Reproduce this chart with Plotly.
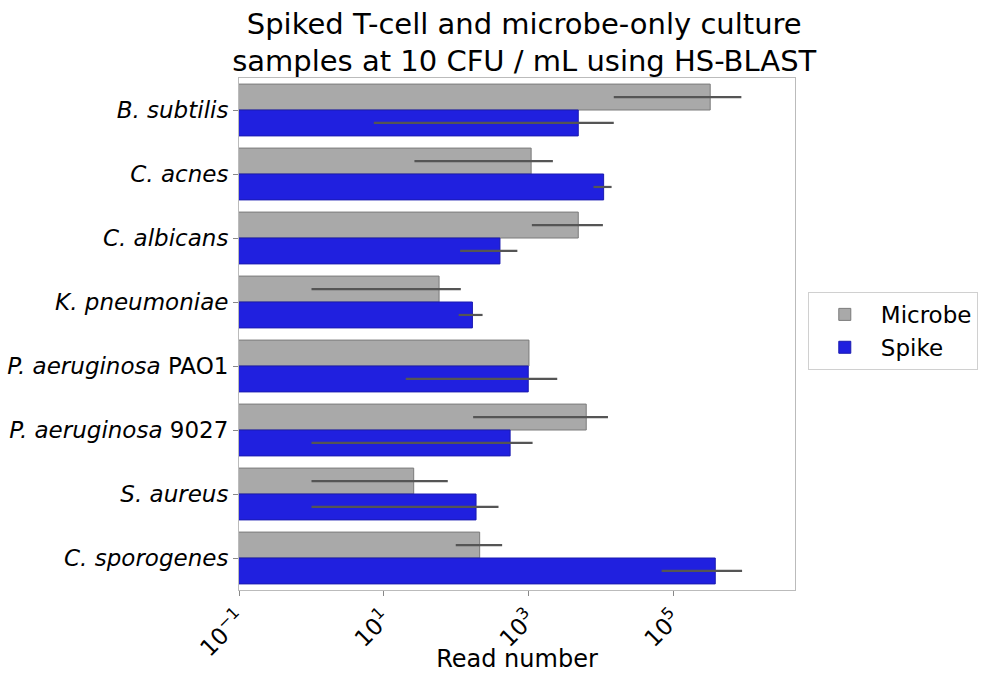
import numpy as np
import plotly.graph_objects as go

categories = ["<i>B. subtilis</i>", "<i>C. acnes</i>", "<i>C. albicans</i>", "<i>K. pneumoniae</i>",
              "<i>P. aeruginosa</i> PAO1", "<i>P. aeruginosa</i> 9027", "<i>S. aureus</i>", "<i>C. sporogenes</i>"]

# log10 values
microbe_log = [5.50, 3.03, 3.68, 1.76, 3.00, 3.79, 1.41, 2.32]
microbe_lo_log = [4.17, 1.42, 3.04, 0.00, 3.00, 2.23, 0.00, 1.99]
microbe_hi_log = [5.93, 3.33, 4.02, 2.06, 3.00, 4.09, 1.88, 2.63]

spike_log = [3.68, 4.03, 2.60, 2.22, 2.99, 2.74, 2.27, 5.57]
spike_lo_log = [0.86, 3.89, 2.05, 2.03, 1.30, 0.00, 0.00, 4.83]
spike_hi_log = [4.17, 4.14, 2.84, 2.36, 3.39, 3.05, 2.58, 5.94]

tick_vals = [0.1, 10, 1000, 100000]
tick_text = ["10<sup>−1</sup>", "10<sup>1</sup>", "10<sup>3</sup>", "10<sup>5</sup>"]


def series(vals, lo, hi):
    v = 10 ** np.array(vals)
    return v, 10 ** np.array(hi) - v, v - 10 ** np.array(lo)


fig = go.Figure()
for name, (vals, lo, hi), color, edge in [
    ("Microbe", (microbe_log, microbe_lo_log, microbe_hi_log), "#a9a9a9", "#7a7a7a"),
    ("Spike", (spike_log, spike_lo_log, spike_hi_log), "#2020df", "#1a1ab0"),
]:
    v, ep, em = series(vals, lo, hi)
    fig.add_trace(go.Bar(
        y=categories, x=v, orientation="h", name=name,
        marker=dict(color=color, line=dict(color=edge, width=1)),
        error_x=dict(type="data", symmetric=False, array=ep, arrayminus=em,
                     color="#555555", thickness=2.2, width=0),
    ))

fig.update_layout(
    width=984, height=673,
    margin=dict(l=239, r=189, t=78, b=83, autoexpand=False),
    paper_bgcolor="white", plot_bgcolor="white",
    font=dict(family="DejaVu Sans", color="black"),
    barmode="group", bargap=0.19, bargroupgap=0,
    title=dict(text="Spiked T-cell and microbe-only culture<br>samples at 10 CFU / mL using HS-BLAST",
               x=0.513, xref="paper", xanchor="center", y=0.95, yanchor="top",
               font=dict(size=29, color="black")),
    legend=dict(x=1.023, xanchor="left", y=0.506, yanchor="middle", traceorder="normal",
                bordercolor="#d0d0d0", borderwidth=1, font=dict(size=23),
                bgcolor="white", itemwidth=62),
    showlegend=True,
)
fig.update_xaxes(type="log", range=[-1, 6.67], tickvals=tick_vals, ticktext=tick_text,
                 tickangle=-45, tickfont=dict(size=23), ticks="outside", ticklen=5,
                 tickcolor="#888", showline=True, linecolor="#bbbbbb", mirror=True,
                 showgrid=False, zeroline=False,
                 title=dict(text="Read number", font=dict(size=24), standoff=8))
fig.update_yaxes(autorange="reversed", tickfont=dict(size=23), ticks="outside", ticklen=5,
                 tickcolor="#888", showline=True, linecolor="#bbbbbb", mirror=True,
                 showgrid=False)

fig.write_html("out.html")
